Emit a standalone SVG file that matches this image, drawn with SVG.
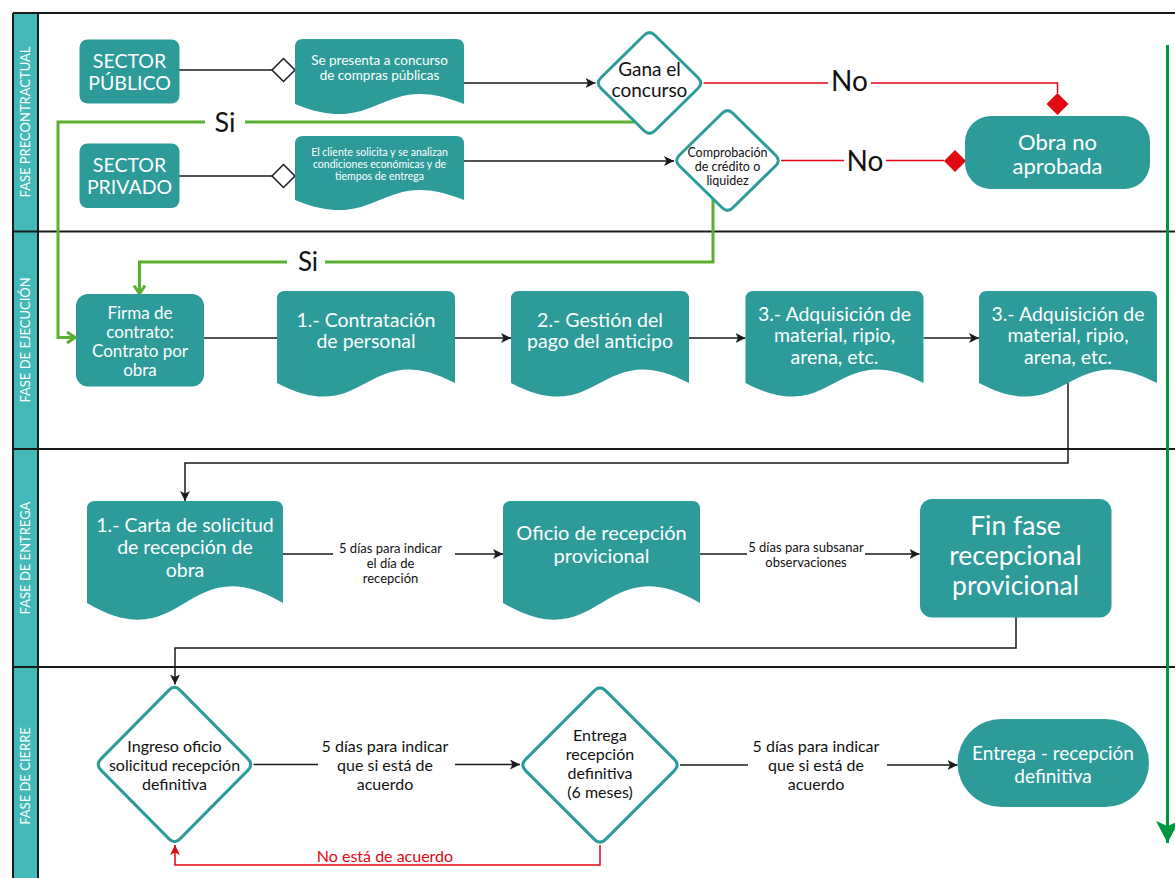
<svg xmlns="http://www.w3.org/2000/svg" width="1175" height="878" viewBox="0 0 1175 878">
<defs>
<style>
.t{font-family:Lato,"Open Sans","Liberation Sans",sans-serif;text-anchor:middle}
.w{fill:#ffffff}
.k{fill:#111111}
.rt{fill:#E30613}
.node{fill:#2C9B9A}
.dec{fill:#ffffff;stroke:#2C9B9A;stroke-width:3}
.c{fill:none;stroke:#1a1a1a;stroke-width:1.5}
.r{fill:none;stroke:#E30613;stroke-width:1.5}
.g{fill:none;stroke:#5AB031;stroke-width:3}
.gd{fill:none;stroke:#009640;stroke-width:3}
.frame{fill:none;stroke:#1a1a1a;stroke-width:2}
.hd{fill:#ffffff;stroke:#1a1a1a;stroke-width:1.5}
.rd{fill:#E30613}
</style>
<marker id="ak" markerUnits="userSpaceOnUse" markerWidth="11" markerHeight="11" refX="10" refY="5" orient="auto"><path d="M0,0 L10,5 L0,10 L2.5,5 Z" fill="#1a1a1a"/></marker>
<marker id="ar" markerUnits="userSpaceOnUse" markerWidth="11" markerHeight="11" refX="10" refY="5" orient="auto"><path d="M0,0 L10,5 L0,10 L2.5,5 Z" fill="#E30613"/></marker>
<marker id="ag" markerUnits="userSpaceOnUse" markerWidth="12" markerHeight="14" refX="9" refY="7" orient="auto"><path d="M1,1.5 L9,7 L1,12.5" fill="none" stroke="#5AB031" stroke-width="3"/></marker>
<marker id="agd" markerUnits="userSpaceOnUse" markerWidth="24" markerHeight="24" refX="22" refY="11.5" orient="auto"><path d="M0,0 L22,11.5 L0,23 L5,11.5 Z" fill="#009640"/></marker>
</defs>

<g id="lanes">
<rect x="13" y="13" width="25" height="865" fill="#42B8B8"/>
<path class="frame" d="M13,13 H1175 M13,13 V878 M38,13 V878 M13,231.5 H1175 M13,449 H1175 M13,667 H1175"/>
<text class="t w" font-size="13" transform="translate(30,122) rotate(-90)">FASE PRECONTRACTUAL</text>
<text class="t w" font-size="13" transform="translate(30,340) rotate(-90)">FASE DE EJECUCIÓN</text>
<text class="t w" font-size="13" transform="translate(30,558) rotate(-90)">FASE DE ENTREGA</text>
<text class="t w" font-size="13" transform="translate(30,776) rotate(-90)">FASE DE CIERRE</text>
</g>

<g id="connectors">
<path class="c" d="M179,70 H272"/>
<polygon class="hd" points="272,70 283.5,58.5 295,70 283.5,81.5"/>
<path class="c" d="M179,176 H272"/>
<polygon class="hd" points="272,176 283.5,164.5 295,176 283.5,187.5"/>
<path class="c" d="M464,83 H595.5" marker-end="url(#ak)"/>
<path class="c" d="M464,161 H674" marker-end="url(#ak)"/>
<path class="r" d="M703.5,83 H828 M871,83 H1057.5 V93"/>
<polygon class="rd" points="1057.5,93 1068.5,104 1057.5,115 1046.5,104"/>
<path class="r" d="M781,160.5 H844 M886,160.5 H944"/>
<polygon class="rd" points="944,161 955,150 966,161 955,172"/>
<path class="g" d="M635,122 H245"/>
<path class="g" d="M205,122 H58 V337.5 H75" marker-end="url(#ag)"/>
<path class="g" d="M713,198 V262 H325"/>
<path class="g" d="M287,262 H139.5 V293.5" marker-end="url(#ag)"/>
<path class="c" d="M204,338 H277"/>
<path class="c" d="M455,338 H511" marker-end="url(#ak)"/>
<path class="c" d="M689,338 H745.5" marker-end="url(#ak)"/>
<path class="c" d="M923.5,338 H979" marker-end="url(#ak)"/>
<path class="c" d="M1068,383 V463 H185 V501" marker-end="url(#ak)"/>
<path class="c" d="M283,554 H333"/>
<path class="c" d="M455,554 H503" marker-end="url(#ak)"/>
<path class="c" d="M700,554 H747"/>
<path class="c" d="M865,554 H919.5" marker-end="url(#ak)"/>
<path class="c" d="M1016,617 V648 H175 V684.5" marker-end="url(#ak)"/>
<path class="c" d="M253.5,764.5 H318"/>
<path class="c" d="M455,764.5 H520" marker-end="url(#ak)"/>
<path class="c" d="M680,765 H748"/>
<path class="c" d="M887,765 H957.5" marker-end="url(#ak)"/>
<path class="r" d="M600,845 V865 H175 V845" marker-end="url(#ar)"/>
<path class="gd" d="M1167.5,45 V843" marker-end="url(#agd)"/>
<text class="t k" font-size="27" x="225" y="132">Si</text>
<text class="t k" font-size="26" x="308" y="271">Si</text>
<text class="t k" font-size="28" x="849.5" y="91">No</text>
<text class="t k" font-size="28" x="865" y="171">No</text>
<text class="t k" font-size="13" x="390.5" y="552.5">5 días para indicar<tspan x="390.5" dy="15">el día de</tspan><tspan x="390.5" dy="15">recepción</tspan></text>
<text class="t k" font-size="13" x="806" y="552">5 días para subsanar<tspan x="806" dy="15">observaciones</tspan></text>
<text class="t k" font-size="16" x="385" y="751.5">5 días para indicar<tspan x="385" dy="19">que si está de</tspan><tspan x="385" dy="19">acuerdo</tspan></text>
<text class="t k" font-size="16" x="816" y="751.5">5 días para indicar<tspan x="816" dy="19">que si está de</tspan><tspan x="816" dy="19">acuerdo</tspan></text>
<text class="t rt" font-size="16" x="385" y="861.5">No está de acuerdo</text>
</g>

<g id="sector-publico">
<rect class="node" x="79.5" y="39.5" width="100" height="64" rx="8"/>
<text class="t w" font-size="19.5" x="129.5" y="68">SECTOR<tspan x="129.5" dy="22">PÚBLICO</tspan></text>
</g>
<g id="sector-privado">
<rect class="node" x="79.5" y="143.5" width="100" height="64.5" rx="8"/>
<text class="t w" font-size="19.5" x="129.5" y="172">SECTOR<tspan x="129.5" dy="22">PRIVADO</tspan></text>
</g>
<g id="doc-concurso">
<path class="node" d="M295,104 L295,47 Q295,39 303,39 L456,39 Q464,39 464,47 L464,104 C379.5,69 379.5,139 295,104 Z"/>
<text class="t w" font-size="13.5" x="379.5" y="64.5">Se presenta a concurso<tspan x="379.5" dy="15">de compras públicas</tspan></text>
</g>
<g id="doc-cliente">
<path class="node" d="M295,200 L295,144 Q295,136 303,136 L456,136 Q464,136 464,144 L464,200 C379.5,165 379.5,235 295,200 Z"/>
<text class="t w" font-size="10.5" x="379.5" y="155.5">El cliente solicita y se analizan<tspan x="379.5" dy="12">condiciones económicas y de</tspan><tspan x="379.5" dy="12">tiempos de entrega</tspan></text>
</g>
<g id="gana-concurso">
<path class="dec" d="M654.9,35.3 L698.1,77.7 Q703.5,83 698.1,88.3 L654.9,130.7 Q649.5,136 644.1,130.7 L600.9,88.3 Q595.5,83 600.9,77.7 L644.1,35.3 Q649.5,30 654.9,35.3 Z"/>
<text class="t k" font-size="19" x="649.5" y="76">Gana el<tspan x="649.5" dy="21">concurso</tspan></text>
</g>
<g id="comprobacion">
<path class="dec" d="M732.85,113.25 L775.65,155.25 Q781,160.5 775.65,165.75 L732.85,207.75 Q727.5,213 722.15,207.75 L679.35,165.75 Q674,160.5 679.35,155.25 L722.15,113.25 Q727.5,108 732.85,113.25 Z"/>
<text class="t k" font-size="12.5" x="727.5" y="157">Comprobación<tspan x="727.5" dy="14">de crédito o</tspan><tspan x="727.5" dy="14">liquidez</tspan></text>
</g>
<g id="obra-no-aprobada">
<rect class="node" x="965" y="116" width="185" height="73" rx="26"/>
<text class="t w" font-size="22" x="1057.5" y="149.5">Obra no<tspan x="1057.5" dy="24.5">aprobada</tspan></text>
</g>

<g id="firma-contrato">
<rect class="node" x="76" y="294" width="128" height="92.5" rx="12"/>
<text class="t w" font-size="17" x="140" y="318.5">Firma de<tspan x="140" dy="19">contrato:</tspan><tspan x="140" dy="19">Contrato por</tspan><tspan x="140" dy="19">obra</tspan></text>
</g>
<g id="contratacion">
<path class="node" d="M277,383 L277,299 Q277,291 285,291 L447,291 Q455,291 455,299 L455,383 C366,336 366,430 277,383 Z"/>
<text class="t w" font-size="19.5" x="366" y="326.5">1.- Contratación<tspan x="366" dy="21.5">de personal</tspan></text>
</g>
<g id="gestion-pago">
<path class="node" d="M511,383 L511,299 Q511,291 519,291 L681,291 Q689,291 689,299 L689,383 C600,336 600,430 511,383 Z"/>
<text class="t w" font-size="19.5" x="600" y="326.5">2.- Gestión del<tspan x="600" dy="21.5">pago del anticipo</tspan></text>
</g>
<g id="adquisicion-1">
<path class="node" d="M745.5,383 L745.5,299 Q745.5,291 753.5,291 L915.5,291 Q923.5,291 923.5,299 L923.5,383 C834.5,336 834.5,430 745.5,383 Z"/>
<text class="t w" font-size="19.5" x="834.5" y="320.5">3.- Adquisición de<tspan x="834.5" dy="21.5">material, ripio,</tspan><tspan x="834.5" dy="21.5">arena, etc.</tspan></text>
</g>
<g id="adquisicion-2">
<path class="node" d="M979,383 L979,299 Q979,291 987,291 L1149,291 Q1157,291 1157,299 L1157,383 C1068,336 1068,430 979,383 Z"/>
<text class="t w" font-size="19.5" x="1068" y="320.5">3.- Adquisición de<tspan x="1068" dy="21.5">material, ripio,</tspan><tspan x="1068" dy="21.5">arena, etc.</tspan></text>
</g>

<g id="carta-solicitud">
<path class="node" d="M87,603 L87,509 Q87,501 95,501 L275,501 Q283,501 283,509 L283,603 C185,545 185,661 87,603 Z"/>
<text class="t w" font-size="19.5" x="185" y="531.5">1.- Carta de solicitud<tspan x="185" dy="22.5">de recepción de</tspan><tspan x="185" dy="23">obra</tspan></text>
</g>
<g id="oficio-recepcion">
<path class="node" d="M503,603 L503,509 Q503,501 511,501 L692,501 Q700,501 700,509 L700,603 C601.5,545 601.5,661 503,603 Z"/>
<text class="t w" font-size="20" x="601.5" y="540">Oficio de recepción<tspan x="601.5" dy="22.5">provicional</tspan></text>
</g>
<g id="fin-fase">
<rect class="node" x="920" y="499" width="191.5" height="118.5" rx="12"/>
<text class="t w" font-size="26.5" x="1015.5" y="535">Fin fase<tspan x="1015.5" dy="30">recepcional</tspan><tspan x="1015.5" dy="30">provicional</tspan></text>
</g>

<g id="ingreso-oficio">
<path class="dec" d="M180,690.1 L248,758.9 Q253.5,764.5 248,770.1 L180,838.9 Q174.5,844.5 169,838.9 L101,770.1 Q95.5,764.5 101,758.9 L169,690.1 Q174.5,684.5 180,690.1 Z"/>
<text class="t k" font-size="16" x="174.5" y="751.5">Ingreso oficio<tspan x="174.5" dy="19">solicitud recepción</tspan><tspan x="174.5" dy="19">definitiva</tspan></text>
</g>
<g id="entrega-definitiva-6m">
<path class="dec" d="M605.6,690.6 L674.4,759.4 Q680,765 674.4,770.6 L605.6,839.4 Q600,845 594.4,839.4 L525.6,770.6 Q520,765 525.6,759.4 L594.4,690.6 Q600,685 605.6,690.6 Z"/>
<text class="t k" font-size="16" x="600" y="740.5">Entrega<tspan x="600" dy="19">recepción</tspan><tspan x="600" dy="19">definitiva</tspan><tspan x="600" dy="19.5">(6 meses)</tspan></text>
</g>
<g id="entrega-recepcion-definitiva">
<rect class="node" x="957.5" y="719" width="191.5" height="88" rx="44"/>
<text class="t w" font-size="19" x="1053" y="759.5">Entrega - recepción<tspan x="1053" dy="23">definitiva</tspan></text>
</g>
</svg>
